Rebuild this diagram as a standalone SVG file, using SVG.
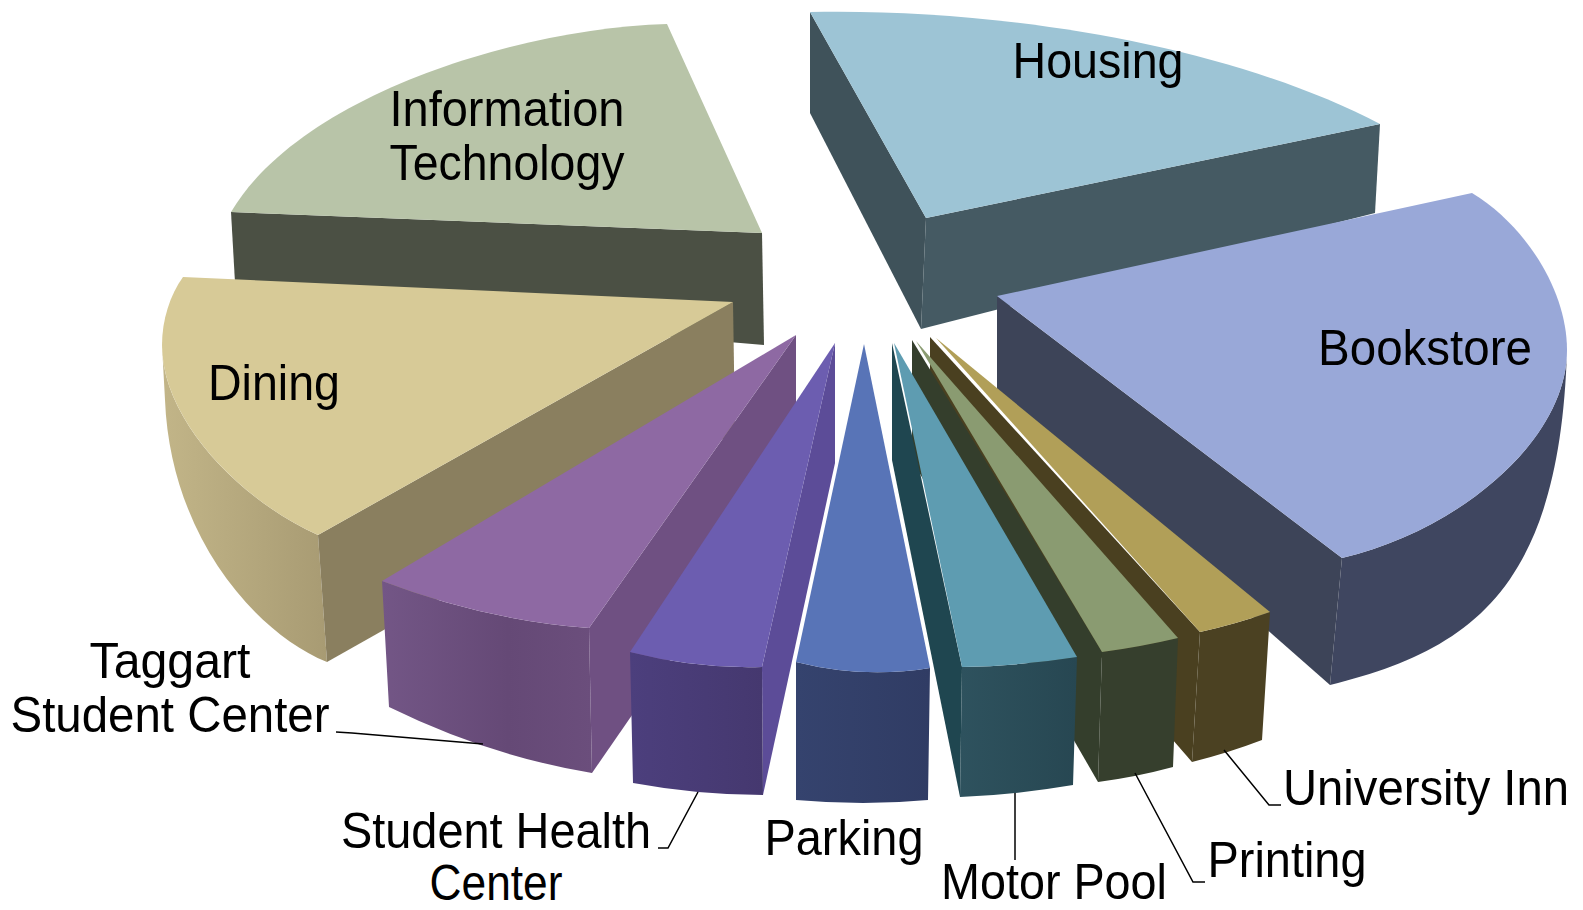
<svg xmlns="http://www.w3.org/2000/svg" width="1583" height="910" viewBox="0 0 1583 910">
<style>
text{font-family:"Liberation Sans",Arial,sans-serif;font-size:50px;fill:#000;text-anchor:middle}
.ld{fill:none;stroke:#000;stroke-width:1.5}
</style>
<defs>
<linearGradient id="gDin" x1="0" y1="0" x2="1" y2="0"><stop offset="0" stop-color="#C2B588"/><stop offset="1" stop-color="#A89B73"/></linearGradient>
<linearGradient id="gTag" x1="0" y1="0" x2="1" y2="0"><stop offset="0" stop-color="#735686"/><stop offset="0.6" stop-color="#654976"/><stop offset="1" stop-color="#6B4E7C"/></linearGradient>
<linearGradient id="gSH" x1="0" y1="0" x2="1" y2="0"><stop offset="0" stop-color="#4C3F7D"/><stop offset="1" stop-color="#45386F"/></linearGradient>
<linearGradient id="gPk" x1="0" y1="0" x2="1" y2="0"><stop offset="0" stop-color="#35436E"/><stop offset="1" stop-color="#303C64"/></linearGradient>
<linearGradient id="gMP" x1="0" y1="0" x2="1" y2="0"><stop offset="0" stop-color="#2E525E"/><stop offset="1" stop-color="#274752"/></linearGradient>
</defs>
<g id="information-technology">
<path fill="#4B5044" d="M231,212 L762,233 L764,345 L236,300 Z"/>
<path fill="#B8C4A8" d="M667,24 C520,28 300,95 231,212 L762,233 Z"/>
<text x="507" y="126" textLength="235" lengthAdjust="spacingAndGlyphs">Information</text>
<text x="507" y="180" textLength="235" lengthAdjust="spacingAndGlyphs">Technology</text>
</g>
<g id="dining">
<path fill="url(#gDin)" d="M162,345 C162,420 240,500 318,535 L327,662 C250,630 170,530 165,400 Z"/>
<path fill="#8A7F5F" d="M733,302 L318,535 L327,662 L735,432 Z"/>
<path fill="#D7CA97" d="M183,277 L733,302 L318,535 C240,500 162,420 162,345 C162,320 170,295 183,277 Z"/>
<text x="274" y="400" textLength="132" lengthAdjust="spacingAndGlyphs">Dining</text>
</g>
<g id="housing">
<path fill="#3F525A" d="M810,12 L926,218 L921,329 L810,113 Z"/>
<path fill="#455A63" d="M926,218 L1380,124 L1375,213 L921,329 Z"/>
<path fill="#9DC4D5" d="M810,12 C1000,8 1230,45 1380,124 L926,218 Z"/>
<text x="1098" y="78" textLength="171" lengthAdjust="spacingAndGlyphs">Housing</text>
</g>
<g id="bookstore">
<path fill="#3F4660" d="M1342,558 C1460,530 1567,440 1567,350 C1560,590 1470,650 1330,685 Z"/>
<path fill="#3D4458" d="M997,296 L1342,558 L1330,685 L997,392 Z"/>
<path fill="#99A8D8" d="M997,296 L1472,193 C1525,225 1567,290 1567,350 C1567,440 1460,530 1342,558 Z"/>
<text x="1425" y="365" textLength="214" lengthAdjust="spacingAndGlyphs">Bookstore</text>
</g>
<g id="university-inn">
<path fill="#4A4020" d="M930,337 L1200,632 L1192,762 L930,460 Z"/>
<path fill="#4B4122" d="M1200,632 Q1236,624 1270,612 L1262,740 Q1228,753 1192,762 Z"/>
<path fill="#B19F58" d="M936,338 L1200,632 Q1236,624 1270,612 Z"/>
</g>
<g id="printing">
<path fill="#343E2C" d="M912,340 L1102,652 L1098,782 L912,460 Z"/>
<path fill="#363F2D" d="M1102,652 Q1140,647 1178,638 L1173,767 Q1136,777 1098,782 Z"/>
<path fill="#8A9B71" d="M916,341 L1102,652 Q1140,647 1178,638 Z"/>
</g>
<g id="motor-pool">
<path fill="#1F4650" d="M892,343 L962,667 L960,797 L892,460 Z"/>
<path fill="url(#gMP)" d="M962,667 Q1020,666 1077,657 L1073,785 Q1014,795 960,797 Z"/>
<path fill="#5E9CB1" d="M894,343 L962,667 Q1020,666 1077,657 Z"/>
</g>
<g id="taggart-student-center">
<path fill="#6F5082" d="M796,335 L589,628 L592,773 L796,478 Z"/>
<path fill="url(#gTag)" d="M382,581 Q484,620 589,628 L592,773 Q489,756 389,707 Z"/>
<path fill="#8E69A3" d="M796,335 L382,581 Q484,620 589,628 Z"/>
<text x="170" y="678" textLength="161" lengthAdjust="spacingAndGlyphs">Taggart</text>
<text x="170" y="732" textLength="319" lengthAdjust="spacingAndGlyphs">Student Center</text>
</g>
<g id="student-health-center">
<path fill="#5C4C98" d="M835,343 L762,667 L763,795 L835,463 Z"/>
<path fill="url(#gSH)" d="M630,652 Q696,669 762,667 L763,795 Q698,795 633,783 Z"/>
<path fill="#6C5DB0" d="M835,343 L630,652 Q696,669 762,667 Z"/>
<text x="496" y="848" textLength="310" lengthAdjust="spacingAndGlyphs">Student Health</text>
<text x="496" y="900" textLength="133" lengthAdjust="spacingAndGlyphs">Center</text>
</g>
<g id="parking">
<path fill="url(#gPk)" d="M796,662 Q863,679 930,668 L928,800 Q864,806 796,800 Z"/>
<path fill="#5874B7" d="M864,344 L796,662 Q863,679 930,668 Z"/>
<text x="844" y="855" textLength="159" lengthAdjust="spacingAndGlyphs">Parking</text>
</g>
<g id="labels-outside">
<text x="1054" y="899" textLength="226" lengthAdjust="spacingAndGlyphs">Motor Pool</text>
<text x="1287" y="877" textLength="159" lengthAdjust="spacingAndGlyphs">Printing</text>
<text x="1426" y="805" textLength="286" lengthAdjust="spacingAndGlyphs">University Inn</text>
</g>
<g id="connectors">
<polyline class="ld" points="336,732 352,733 483,744"/>
<polyline class="ld" points="698,792 668,848 658,848"/>
<polyline class="ld" points="1015,793 1015,860"/>
<polyline class="ld" points="1135,773 1193,882 1205,882"/>
<polyline class="ld" points="1224,750 1269,805 1281,805"/>
</g>
</svg>
